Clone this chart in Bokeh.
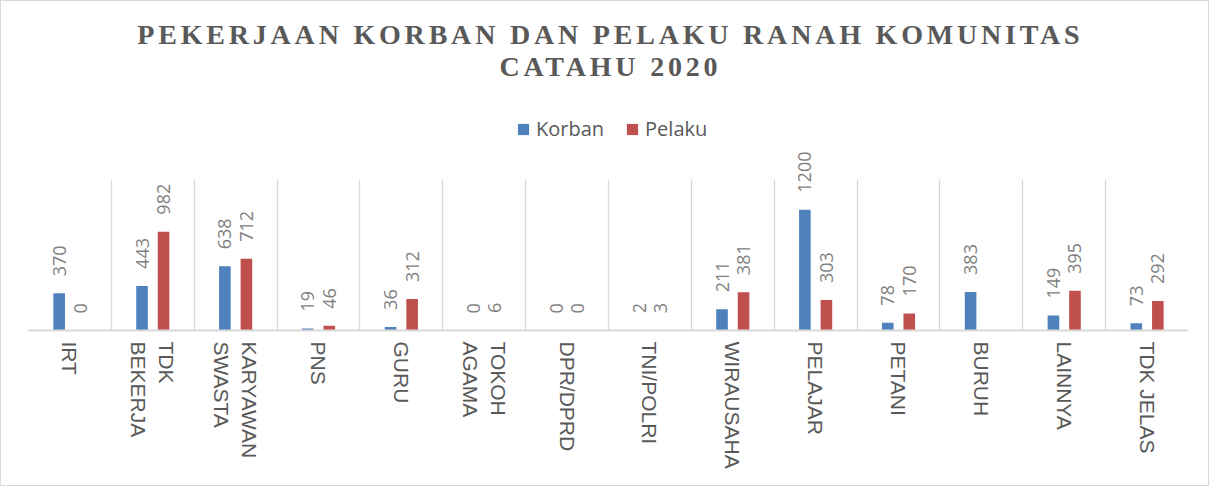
import math
from bokeh.plotting import figure
from bokeh.layouts import column
from bokeh.models import (Range1d, ColumnDataSource, FixedTicker, Label,
                          Legend, LegendItem, InlineStyleSheet)
from bokeh.core.properties import value
from bokeh.transform import dodge
from bokeh.embed import file_html
from bokeh.resources import INLINE

# ---------------- data ----------------
categories = ["IRT", "TDK BEKERJA", "KARYAWAN SWASTA", "PNS", "GURU", "TOKOH AGAMA",
              "DPR/DPRD", "TNI/POLRI", "WIRAUSAHA", "PELAJAR", "PETANI", "BURUH",
              "LAINNYA", "TDK JELAS"]
tick_labels = ["IRT", "TDK\nBEKERJA", "KARYAWAN\nSWASTA", "PNS", "GURU", "TOKOH\nAGAMA",
               "DPR/DPRD", "TNI/POLRI", "WIRAUSAHA", "PELAJAR", "PETANI", "BURUH",
               "LAINNYA", "TDK JELAS"]
korban = [370, 443, 638, 19, 36, 0, 0, 2, 211, 1200, 78, 383, 149, 73]
pelaku = [0, 982, 712, 46, 312, 6, 0, 3, 381, 303, 170, None, 395, 292]
title_line1 = "PEKERJAAN KORBAN DAN PELAKU RANAH KOMUNITAS"
title_line2 = "CATAHU 2020"
series_names = ["Korban", "Pelaku"]
colors = ["#4f81bd", "#c0504d"]
AXIS_MAX = 1500

n = len(categories)
idx = list(range(n))

# ---------------- sources ----------------
src = ColumnDataSource(dict(
    idx=idx, cat=categories, korban=korban,
    pelaku=[float("nan") if v is None else v for v in pelaku],
))
lbl_k = ColumnDataSource(dict(idx=idx, v=korban, t=[str(v) for v in korban]))
pk = [(i, v) for i, v in zip(idx, pelaku) if v is not None]
lbl_p = ColumnDataSource(dict(idx=[i for i, _ in pk], v=[v for _, v in pk],
                              t=[str(v) for _, v in pk]))

W = 1207
TITLE_H = 110
MAIN_H = 374
FRAME_H = 219      # frame spans from top of main figure down to the baseline
GRID_H = 151       # visible gridline height (0 .. AXIS_MAX)
SPACING = 3.8      # title letter spacing (px)

# ---------------- title figure (letter-spaced) ----------------
pt = figure(width=W, height=TITLE_H, x_range=Range1d(0, 1), y_range=Range1d(0, 1),
            output_backend="svg", toolbar_location=None,
            x_axis_location=None, y_axis_location=None, min_border=0)
pt.outline_line_color = None
pt.grid.visible = False
pt.stylesheets = [InlineStyleSheet(css=":host { letter-spacing: %spx; }" % SPACING)]
for txt, yy in ((title_line1, 77.5), (title_line2, 45)):
    pt.add_layout(Label(x=0.5, y=yy, y_units="screen", text=txt, text_align="center",
                        x_offset=-(len(txt) - 1) * SPACING / 2,
                        text_baseline="alphabetic", text_font="Liberation Serif",
                        text_font_size="28px", text_font_style="bold", text_color="#595959"))

# ---------------- main figure ----------------
p = figure(x_range=Range1d(-0.5, n - 0.5), y_range=Range1d(0, AXIS_MAX * FRAME_H / GRID_H),
           width=W, height=MAIN_H, output_backend="svg", toolbar_location=None,
           y_axis_location=None, min_border_left=27, min_border_right=20,
           min_border_top=0, min_border_bottom=MAIN_H - FRAME_H)
p.outline_line_color = None

p.ygrid.grid_line_color = None
g = p.xgrid[0]
g.ticker = FixedTicker(ticks=[i - 0.5 for i in range(n + 1)])
g.grid_line_color = "#d9d9d9"
g.grid_line_width = 1.3
g.cross_bounds = (0, AXIS_MAX)

ax = p.xaxis[0]
ax.ticker = FixedTicker(ticks=idx)
ax.major_label_overrides = {i: l for i, l in zip(idx, tick_labels)}
ax.axis_line_color = "#d9d9d9"
ax.axis_line_width = 2
ax.major_tick_line_color = None
ax.minor_tick_line_color = None
ax.major_tick_out = 0
ax.major_tick_in = 0
ax.major_label_orientation = -math.pi / 2
ax.major_label_text_font = "Liberation Sans"
ax.major_label_text_font_size = "21px"
ax.major_label_text_color = "#595959"
ax.major_label_text_align = "center"
ax.major_label_standoff = 11

rk = p.vbar(x=dodge("idx", -0.13), top="korban", width=0.14,
            source=src, fill_color=colors[0], line_color=None)
rp = p.vbar(x=dodge("idx", 0.13), top="pelaku", width=0.14,
            source=src, fill_color=colors[1], line_color=None)

for s, off in ((lbl_k, -0.13), (lbl_p, 0.13)):
    p.text(x=dodge("idx", off), y="v", text="t", source=s,
           angle=math.pi / 2, text_align="left", text_baseline="middle",
           y_offset=-17, text_font=value("Open Sans"), text_font_size="18px",
           text_color="#7f7f7f")

legend = Legend(items=[LegendItem(label=series_names[0], renderers=[rk]),
                       LegendItem(label=series_names[1], renderers=[rp])],
                orientation="horizontal", location=(488, 188),
                glyph_width=14, glyph_height=14, label_standoff=6, spacing=21,
                padding=0, margin=0, border_line_color=None, background_fill_alpha=0,
                label_text_font="Open Sans", label_text_font_size="20px",
                label_text_color="#595959")
p.add_layout(legend, "center")

layout = column(pt, p, spacing=0)
layout.stylesheets = [InlineStyleSheet(css=":host { border: 1px solid #d9d9d9; }")]

open("out.html", "w").write(file_html(layout, INLINE))
